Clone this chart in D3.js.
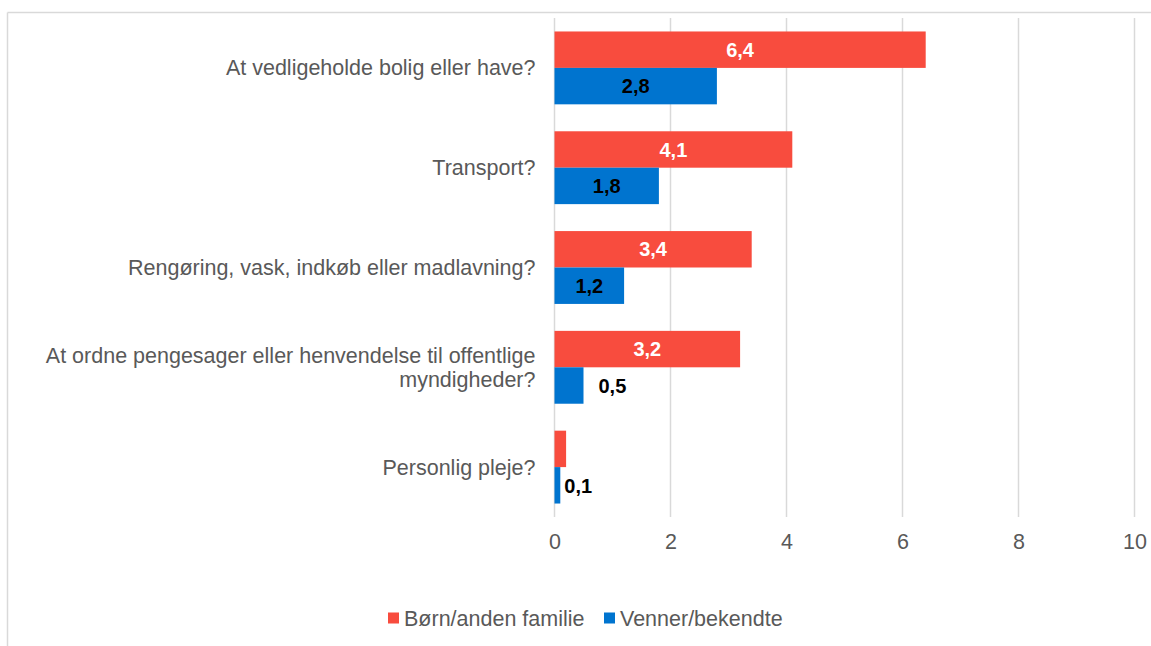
<!DOCTYPE html>
<html>
<head>
<meta charset="utf-8">
<script src="https://cdn.jsdelivr.net/npm/d3@7"></script>
<style>
  html, body { margin: 0; padding: 0; background: #fff; }
  svg { display: block; font-family: "Liberation Sans", Arial, sans-serif; }
</style>
</head>
<body>
<svg id="chart" width="1151" height="646"></svg>
<script>
// data
const categories = [
  'At vedligeholde bolig eller have?',
  'Transport?',
  'Rengøring, vask, indkøb eller madlavning?',
  'At ordne pengesager eller henvendelse til offentlige myndigheder?',
  'Personlig pleje?'
];
const seriesNames = ['Børn/anden familie', 'Venner/bekendte'];
const familyValues = [6.4, 4.1, 3.4, 3.2, 0.2];
const friendValues = [2.8, 1.8, 1.2, 0.5, 0.1];
const familyLabels = ['6,4', '4,1', '3,4', '3,2', ''];
const friendLabels = ['2,8', '1,8', '1,2', '0,5', '0,1'];
const xTicks = [0, 2, 4, 6, 8, 10];

const colors = ['#f84c3e', '#0074cf'];
const gray = '#595959';
const gridColor = '#d9d9d9';

const svg = d3.select('#chart');
const width = 1151;
const height = 646;

// outer frame (top + left edges visible)
svg.append('line')
  .attr('x1', 7.5).attr('x2', width).attr('y1', 12.5).attr('y2', 12.5)
  .attr('stroke', gridColor).attr('stroke-width', 1.5);
svg.append('line')
  .attr('x1', 7.5).attr('x2', 7.5).attr('y1', 12.5).attr('y2', height)
  .attr('stroke', gridColor).attr('stroke-width', 1.5);

const margin = { top: 18, left: 554.5, right: 16.5, bottom: 129 };
const plotW = width - margin.left - margin.right;
const plotH = height - margin.top - margin.bottom;

const x = d3.scaleLinear().domain([0, 10]).range([0, plotW]);
const y = d3.scaleBand().domain(categories).range([0, plotH]).paddingInner(0.27).paddingOuter(0.135);
const ySub = d3.scaleBand().domain([0, 1]).range([0, y.bandwidth()]);

const g = svg.append('g').attr('transform', `translate(${margin.left},${margin.top})`);

// vertical gridlines
g.selectAll('line.grid')
  .data(xTicks)
  .join('line')
  .attr('class', 'grid')
  .attr('x1', d => x(d)).attr('x2', d => x(d))
  .attr('y1', 0).attr('y2', plotH)
  .attr('stroke', gridColor).attr('stroke-width', 1.5);

// x axis tick labels
const xAxis = d3.axisBottom(x).tickValues(xTicks).tickSize(0).tickPadding(17).tickFormat(d3.format('d'));
const xg = g.append('g').attr('transform', `translate(0,${plotH})`).call(xAxis);
xg.select('.domain').remove();
xg.selectAll('text').attr('fill', gray).style('font-size', '21.5px').style('font-family', '"Liberation Sans", Arial, sans-serif');

// category labels (wrapped where the picture wraps)
const catLines = [
  ['At vedligeholde bolig eller have?'],
  ['Transport?'],
  ['Rengøring, vask, indkøb eller madlavning?'],
  ['At ordne pengesager eller henvendelse til offentlige', 'myndigheder?'],
  ['Personlig pleje?']
];
categories.forEach((c, i) => {
  const lines = catLines[i];
  const cy = y(c) + y.bandwidth() / 2;
  const t = g.append('text')
    .attr('text-anchor', 'end')
    .attr('fill', gray)
    .style('font-size', '21.5px');
  lines.forEach((ln, j) => {
    t.append('tspan')
      .attr('x', -19)
      .attr('y', cy + (j - (lines.length - 1) / 2) * 24)
      .attr('dy', '0.35em')
      .text(ln);
  });
});

// bars
const series = [
  { values: familyValues, labels: familyLabels, color: colors[0], textColor: '#fff' },
  { values: friendValues, labels: friendLabels, color: colors[1], textColor: '#000' }
];

series.forEach((s, si) => {
  const bars = g.append('g');
  bars.selectAll('rect')
    .data(categories)
    .join('rect')
    .attr('x', 0)
    .attr('y', c => y(c) + ySub(si))
    .attr('width', (c, i) => x(s.values[i]))
    .attr('height', ySub.bandwidth())
    .attr('fill', s.color);

  bars.selectAll('text')
    .data(categories)
    .join('text')
    .each(function (c, i) {
      const v = s.values[i];
      const w = x(v);
      const inside = w > 60;
      d3.select(this)
        .attr('x', inside ? w / 2 : w + (v < 0.3 ? 4 : 15))
        .attr('y', y(c) + ySub(si) + ySub.bandwidth() / 2)
        .attr('dy', '0.36em')
        .attr('text-anchor', inside ? 'middle' : 'start')
        .attr('fill', inside ? s.textColor : '#000')
        .style('font-size', '20px')
        .style('font-weight', 'bold')
        .text(s.labels[i]);
    });
});

// legend
const legend = svg.append('g').attr('transform', 'translate(388,618)');
const legendX = [0, 216];
seriesNames.forEach((name, i) => {
  const lg = legend.append('g').attr('transform', `translate(${legendX[i]},0)`);
  lg.append('rect').attr('x', 0).attr('y', -5.5).attr('width', 11).attr('height', 11).attr('fill', colors[i]);
  lg.append('text').attr('x', 16).attr('y', 0).attr('dy', '0.35em')
    .attr('fill', gray).style('font-size', '21.5px').text(name);
});
</script>
</body>
</html>
